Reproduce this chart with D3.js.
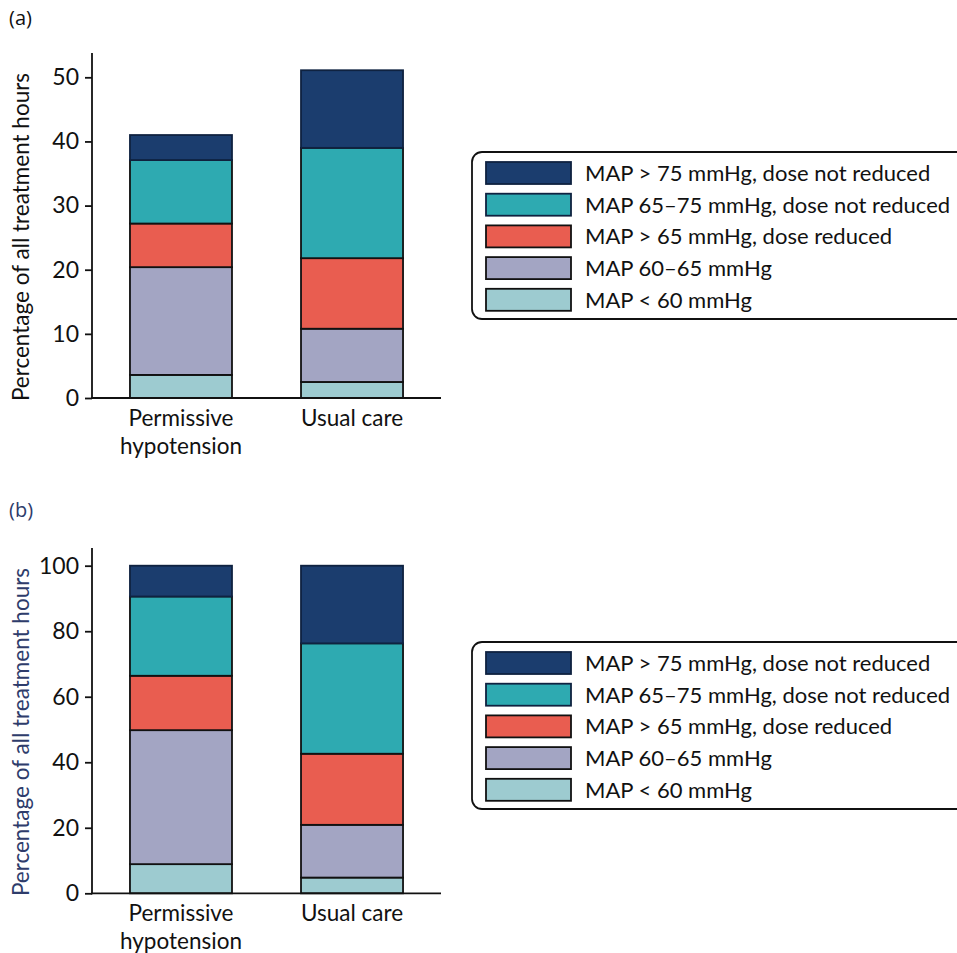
<!DOCTYPE html>
<html>
<head>
<meta charset="utf-8">
<script src="https://cdn.jsdelivr.net/npm/d3@7"></script>
<style>
  body { margin: 0; background: #fff; }
  text { font-family: Lato, "Noto Sans", sans-serif; }
</style>
</head>
<body>
<svg id="chart" width="957" height="953"></svg>
<script>
const categories = ["Permissive hypotension", "Usual care"];
const categoryLines = [["Permissive", "hypotension"], ["Usual care"]];
const seriesNames = [
  "MAP < 60 mmHg",
  "MAP 60–65 mmHg",
  "MAP > 65 mmHg, dose reduced",
  "MAP 65–75 mmHg, dose not reduced",
  "MAP > 75 mmHg, dose not reduced"
];
const seriesColors = ["#9dcbd0", "#a3a5c3", "#e95d50", "#2eaab1", "#1b3d6e"];
// Panel (a): percentage of all treatment hours
const valuesA_PH = [3.6, 16.8, 6.8, 9.9, 3.9];
const valuesA_UC = [2.5, 8.3, 11.0, 17.2, 12.1];
// Panel (b): percentage of all treatment hours (normalised)
const valuesB_PH = [8.9, 40.9, 16.6, 24.2, 9.4];
const valuesB_UC = [4.8, 16.1, 21.7, 33.7, 23.7];
const ticksA = [0, 10, 20, 30, 40, 50];
const ticksB = [0, 20, 40, 60, 80, 100];

const svg = d3.select("#chart");

function panel(cfg) {
  const g = svg.append("g");
  const x = d3.scaleBand().domain(categories).range([92, 441])
    .paddingInner(0.4035).paddingOuter(0.222);
  const y = d3.scaleLinear().domain([0, cfg.max]).range([cfg.y0, cfg.yMax]);

  // panel label
  svg.append("text").attr("x", 9).attr("y", cfg.labelY)
    .style("font-family", "'Open Sans', sans-serif")
    .attr("font-size", 20).attr("fill", cfg.labelColor).text(cfg.label);

  // stacked bars
  const rows = categories.map((c, i) => {
    const o = { cat: c };
    seriesNames.forEach((s, j) => o[s] = cfg.values[i][j]);
    return o;
  });
  const stack = d3.stack().keys(seriesNames)(rows);
  stack.forEach((layer, j) => {
    g.selectAll(null).data(layer).enter().append("rect")
      .attr("x", d => x(d.data.cat))
      .attr("width", x.bandwidth())
      .attr("y", d => y(d[1]))
      .attr("height", d => y(d[0]) - y(d[1]))
      .attr("fill", seriesColors[j])
      .attr("stroke", j === 4 ? "#0f2240" : "#111")
      .attr("stroke-width", 1.8);
  });

  // y axis
  const ay = g.append("g").attr("transform", "translate(92,0)")
    .call(d3.axisLeft(y).tickValues(cfg.ticks).tickSize(7).tickPadding(6).tickSizeOuter(0));
  ay.select(".domain").remove();
  ay.selectAll(".tick line").attr("stroke", "#111").attr("stroke-width", 1.8);
  ay.selectAll(".tick text").attr("font-size", 23).attr("fill", "#111")
    .style("font-family", "Lato, sans-serif");
  g.append("line").attr("x1", 92).attr("x2", 92).attr("y1", cfg.axisTop).attr("y2", cfg.y0 + 1)
    .attr("stroke", "#111").attr("stroke-width", 1.8);
  // x axis
  g.append("line").attr("x1", 91).attr("x2", 441).attr("y1", cfg.y0).attr("y2", cfg.y0)
    .attr("stroke", "#111").attr("stroke-width", 1.8);

  // category labels
  categories.forEach((c, i) => {
    categoryLines[i].forEach((ln, k) => {
      g.append("text").attr("x", x(c) + x.bandwidth() / 2)
        .attr("y", cfg.y0 + 28 + k * 28)
        .attr("text-anchor", "middle").attr("font-size", 22.5).attr("fill", "#111").text(ln);
    });
  });

  // y title
  g.append("text")
    .attr("transform", `translate(29,${cfg.titleY}) rotate(-90)`)
    .attr("text-anchor", "middle").attr("font-size", 22.5)
    .attr("fill", cfg.titleColor).text("Percentage of all treatment hours");

  // legend
  const lg = g.append("g");
  lg.append("rect").attr("x", 472).attr("y", cfg.legTop).attr("width", 520)
    .attr("height", 167).attr("rx", 10).attr("fill", "none")
    .attr("stroke", "#111").attr("stroke-width", 1.8);
  const order = [4, 3, 2, 1, 0];
  order.forEach((j, r) => {
    const yy = cfg.legTop + 10 + r * 31.7;
    lg.append("rect").attr("x", 486).attr("y", yy).attr("width", 85).attr("height", 22)
      .attr("fill", seriesColors[j]).attr("stroke", j === 4 || j === 3 ? "#0f2240" : "#111")
      .attr("stroke-width", 1.8);
    lg.append("text").attr("x", 585).attr("y", yy + 19).attr("font-size", 22)
      .attr("fill", "#111").text(seriesNames[j]);
  });
}

panel({
  label: "(a)", labelY: 25, labelColor: "#111",
  values: [valuesA_PH, valuesA_UC], max: 50, ticks: ticksA,
  y0: 398, yMax: 77.3, axisTop: 53, titleY: 237, titleColor: "#111", legTop: 152
});
panel({
  label: "(b)", labelY: 517, labelColor: "#2e3c6b",
  values: [valuesB_PH, valuesB_UC], max: 100, ticks: ticksB,
  y0: 893.3, yMax: 565.7, axisTop: 548, titleY: 732, titleColor: "#2e3c6b", legTop: 642
});
</script>
</body>
</html>
